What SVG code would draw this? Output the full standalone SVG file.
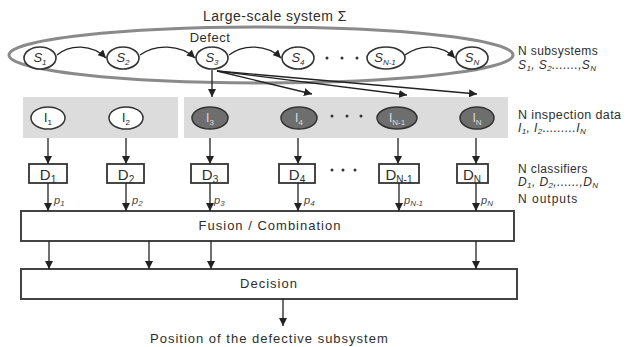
<svg xmlns="http://www.w3.org/2000/svg" width="643" height="347" viewBox="0 0 643 347">
<style>
text{font-family:"Liberation Sans",Arial,sans-serif;fill:#2e2e2e}
.lbl{font-size:12px;letter-spacing:0.4px}
.mid{font-size:13px;letter-spacing:1px}
.it{font-style:italic}
.sn{fill:#fff;stroke:#333;stroke-width:1.6}
.iw{fill:#fff;stroke:#333;stroke-width:1.5}
.ig{fill:#6e6e6e;stroke:#333;stroke-width:1.5}
.band{fill:#dcdcdc}
.box{fill:#fff;stroke:#333;stroke-width:1.8}
.big{fill:#fff;stroke:#444;stroke-width:2}
.ln{stroke:#222;stroke-width:1.3;fill:none}
.dot{fill:#333}
.st{font-size:13px;font-style:italic}
.itxt{font-size:12px;fill:#222}
.itxtg{font-size:12px;fill:#ddd}
.dt{font-size:15px}
.p{font-size:11px;font-style:italic;fill:#444}
</style>
<defs>
<marker id="ah" viewBox="0 0 10 10" refX="10" refY="5" markerWidth="8" markerHeight="8" markerUnits="userSpaceOnUse" orient="auto">
<path d="M0,0 L10,5 L0,10 z" fill="#222"/>
</marker>
</defs>

<text x="275" y="21" text-anchor="middle" style="font-size:14px;letter-spacing:0.5px">Large-scale system Σ</text>
<ellipse id="system" cx="261" cy="55" rx="252" ry="28" fill="none" stroke="#8a8a8a" stroke-width="3"/>
<text x="210" y="42" text-anchor="middle" style="font-size:13px;letter-spacing:0.5px">Defect</text>

<!-- gray bands -->
<rect class="band" x="23" y="97" width="155" height="41"/>
<rect class="band" x="184" y="97" width="324" height="41"/>

<!-- subsystems -->
<g id="S1"><ellipse class="sn" cx="40" cy="58" rx="16" ry="11"/><text class="st" x="40" y="62" text-anchor="middle">S<tspan font-size="8" dy="3">1</tspan></text></g>
<g id="S2"><ellipse class="sn" cx="123" cy="58" rx="16" ry="11"/><text class="st" x="123" y="62" text-anchor="middle">S<tspan font-size="8" dy="3">2</tspan></text></g>
<g id="S3"><ellipse class="sn" cx="212" cy="58" rx="16" ry="11"/><text class="st" x="212" y="62" text-anchor="middle">S<tspan font-size="8" dy="3">3</tspan></text></g>
<g id="S4"><ellipse class="sn" cx="298" cy="58" rx="16" ry="11"/><text class="st" x="298" y="62" text-anchor="middle">S<tspan font-size="8" dy="3">4</tspan></text></g>
<g id="SN1"><ellipse class="sn" cx="386" cy="58" rx="19" ry="11"/><text class="st" x="385" y="62" text-anchor="middle">S<tspan font-size="8" dy="3">N-1</tspan></text></g>
<g id="SN"><ellipse class="sn" cx="472" cy="58" rx="16" ry="11"/><text class="st" x="472" y="62" text-anchor="middle">S<tspan font-size="8" dy="3">N</tspan></text></g>
<g id="sdots"><circle class="dot" cx="327" cy="58" r="1.5"/><circle class="dot" cx="342" cy="58" r="1.5"/><circle class="dot" cx="357" cy="58" r="1.5"/></g>

<!-- inspection data -->
<g id="I1"><ellipse class="iw" cx="48" cy="118" rx="17" ry="11"/><text class="itxt" x="48" y="122" text-anchor="middle">I<tspan font-size="8" dy="3">1</tspan></text></g>
<g id="I2"><ellipse class="iw" cx="126" cy="118" rx="17" ry="11"/><text class="itxt" x="126" y="122" text-anchor="middle">I<tspan font-size="8" dy="3">2</tspan></text></g>
<g id="I3"><ellipse class="ig" cx="210" cy="118" rx="18" ry="11"/><text class="itxtg" x="210" y="122" text-anchor="middle">I<tspan font-size="8" dy="3">3</tspan></text></g>
<g id="I4"><ellipse class="ig" cx="299" cy="118" rx="18" ry="11"/><text class="itxtg" x="299" y="122" text-anchor="middle">I<tspan font-size="8" dy="3">4</tspan></text></g>
<g id="IN1"><ellipse class="ig" cx="397" cy="118" rx="20" ry="11"/><text class="itxtg" x="397" y="122" text-anchor="middle">I<tspan font-size="8" dy="3">N-1</tspan></text></g>
<g id="IN"><ellipse class="ig" cx="477" cy="118" rx="17" ry="11"/><text class="itxtg" x="477" y="122" text-anchor="middle">I<tspan font-size="8" dy="3">N</tspan></text></g>
<g id="idots"><circle class="dot" cx="332" cy="116" r="1.5"/><circle class="dot" cx="347" cy="116" r="1.5"/><circle class="dot" cx="361" cy="116" r="1.5"/></g>

<!-- classifiers -->
<g id="D1"><rect class="box" x="29" y="164" width="38" height="19"/><text class="dt" x="48" y="180" text-anchor="middle">D<tspan font-size="10" dy="3">1</tspan></text></g>
<g id="D2"><rect class="box" x="107" y="164" width="37" height="19"/><text class="dt" x="126" y="180" text-anchor="middle">D<tspan font-size="10" dy="3">2</tspan></text></g>
<g id="D3"><rect class="box" x="191" y="164" width="37" height="19"/><text class="dt" x="210" y="180" text-anchor="middle">D<tspan font-size="10" dy="3">3</tspan></text></g>
<g id="D4"><rect class="box" x="279" y="164" width="36" height="19"/><text class="dt" x="297" y="180" text-anchor="middle">D<tspan font-size="10" dy="3">4</tspan></text></g>
<g id="DN1"><rect class="box" x="379" y="164" width="40" height="19"/><text class="dt" x="399" y="180" text-anchor="middle">D<tspan font-size="10" dy="3">N-1</tspan></text></g>
<g id="DN"><rect class="box" x="457" y="164" width="31" height="19"/><text class="dt" x="472" y="180" text-anchor="middle">D<tspan font-size="10" dy="3">N</tspan></text></g>
<g id="ddots"><circle class="dot" cx="332" cy="170" r="1.5"/><circle class="dot" cx="343" cy="170" r="1.5"/><circle class="dot" cx="355" cy="170" r="1.5"/></g>

<!-- fusion & decision -->
<g id="fusion"><rect class="big" x="21" y="211" width="493" height="30"/><text class="mid" x="270" y="230" text-anchor="middle">Fusion / Combination</text></g>
<g id="decision"><rect class="big" x="21" y="269" width="496" height="30"/><text class="mid" x="269" y="288" text-anchor="middle">Decision</text></g>
<text class="mid" x="150" y="343">Position of the defective subsystem</text>

<!-- right labels -->
<g id="legend">
<text class="lbl" x="518" y="55">N subsystems</text>
<text class="lbl it" x="518" y="69">S<tspan font-size="8" dy="2">1</tspan><tspan dy="-2">, S</tspan><tspan font-size="8" dy="2">2</tspan><tspan dy="-2">.......,S</tspan><tspan font-size="8" dy="2">N</tspan></text>
<text class="lbl" x="518" y="119" style="font-size:12.5px">N inspection data</text>
<text class="lbl it" x="518" y="132">I<tspan font-size="8" dy="2">1</tspan><tspan dy="-2">, I</tspan><tspan font-size="8" dy="2">2</tspan><tspan dy="-2">.........I</tspan><tspan font-size="8" dy="2">N</tspan></text>
<text class="lbl" x="518" y="173">N classifiers</text>
<text class="lbl it" x="518" y="186">D<tspan font-size="8" dy="2">1</tspan><tspan dy="-2">, D</tspan><tspan font-size="8" dy="2">2</tspan><tspan dy="-2">,......,D</tspan><tspan font-size="8" dy="2">N</tspan></text>
<text class="lbl" x="518" y="203" style="letter-spacing:1px">N outputs</text>
</g>

<!-- connectors -->
<g id="connectors">
<path class="ln" d="M57,55 C70,44 92,44 106,58" marker-end="url(#ah)"/>
<path class="ln" d="M140,55 C155,44 180,44 195,58" marker-end="url(#ah)"/>
<path class="ln" d="M229,55 C243,44 267,44 281,58" marker-end="url(#ah)"/>
<path class="ln" d="M405,55 C420,44 441,44 455,58" marker-end="url(#ah)"/>

<line class="ln" x1="212" y1="70" x2="212" y2="97" marker-end="url(#ah)"/>
<line class="ln" x1="217" y1="71" x2="312" y2="94" marker-end="url(#ah)"/>
<line class="ln" x1="217" y1="71" x2="407" y2="95" marker-end="url(#ah)"/>
<line class="ln" x1="217" y1="71" x2="477" y2="94" marker-end="url(#ah)"/>

<line class="ln" x1="48" y1="138" x2="48" y2="164" marker-end="url(#ah)"/>
<line class="ln" x1="126" y1="138" x2="126" y2="164" marker-end="url(#ah)"/>
<line class="ln" x1="210" y1="138" x2="210" y2="164" marker-end="url(#ah)"/>
<line class="ln" x1="298" y1="138" x2="298" y2="164" marker-end="url(#ah)"/>
<line class="ln" x1="398" y1="138" x2="398" y2="164" marker-end="url(#ah)"/>
<line class="ln" x1="476" y1="138" x2="476" y2="164" marker-end="url(#ah)"/>

<line class="ln" x1="48" y1="183" x2="48" y2="211" marker-end="url(#ah)"/>
<line class="ln" x1="126" y1="183" x2="126" y2="211" marker-end="url(#ah)"/>
<line class="ln" x1="210" y1="183" x2="210" y2="211" marker-end="url(#ah)"/>
<line class="ln" x1="298" y1="183" x2="298" y2="211" marker-end="url(#ah)"/>
<line class="ln" x1="399" y1="183" x2="399" y2="211" marker-end="url(#ah)"/>
<line class="ln" x1="476" y1="183" x2="476" y2="211" marker-end="url(#ah)"/>

<line class="ln" x1="49" y1="241" x2="49" y2="269" marker-end="url(#ah)"/>
<line class="ln" x1="149" y1="241" x2="149" y2="269" marker-end="url(#ah)"/>
<line class="ln" x1="211" y1="241" x2="211" y2="269" marker-end="url(#ah)"/>
<line class="ln" x1="476" y1="241" x2="476" y2="269" marker-end="url(#ah)"/>

<line class="ln" x1="283" y1="299" x2="283" y2="326" marker-end="url(#ah)"/>
</g>

<g id="plabels">
<text class="p" x="54" y="204">p<tspan font-size="8" dy="2">1</tspan></text>
<text class="p" x="132" y="204">p<tspan font-size="8" dy="2">2</tspan></text>
<text class="p" x="214" y="204">p<tspan font-size="8" dy="2">3</tspan></text>
<text class="p" x="304" y="204">p<tspan font-size="8" dy="2">4</tspan></text>
<text class="p" x="404" y="204">p<tspan font-size="8" dy="2">N-1</tspan></text>
<text class="p" x="481" y="204">p<tspan font-size="8" dy="2">N</tspan></text>
</g>
</svg>
